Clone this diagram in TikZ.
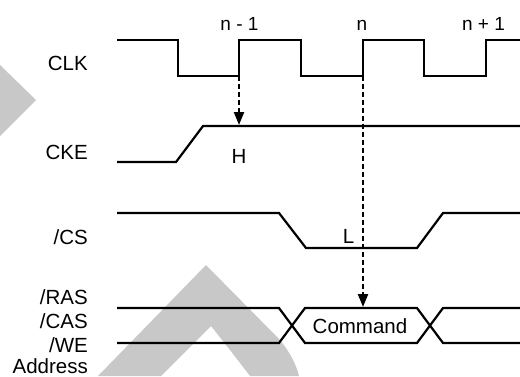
\documentclass[tikz,border=0pt]{standalone}
\usepackage{fontspec}
\setmainfont{Liberation Sans}
\usetikzlibrary{arrows.meta}
\definecolor{wmgray}{RGB}{200,200,200}
\tikzset{
  sig/.style={line width=2.2pt, line join=miter},
  dasharrow/.style={line width=2.2pt, dash pattern=on 5pt off 3pt, -{Triangle[width=10pt,length=13pt]}},
  lbl/.style={anchor=base east, inner sep=0pt, font=\fontsize{20.5}{24}\selectfont},
  toplbl/.style={anchor=base, inner sep=0pt, font=\fontsize{19}{23}\selectfont},
  midlbl/.style={anchor=base, inner sep=0pt, font=\fontsize{20.5}{24}\selectfont},
  wm/.style={fill=wmgray, draw=none}
}
\begin{document}
\begin{tikzpicture}[x=1pt,y=-1pt]
\useasboundingbox (0,0) rectangle (520,376);
% watermark shapes
\fill[wm] (0,65) -- (36,100) -- (0,136) -- cycle;
\fill[wm] (98,376) -- (206,265) -- (279,339) .. controls (290,352) and (296,364) .. (299,376)
  -- (250,376) -- (230,350) -- (211,326) -- (161,376) -- cycle;
% labels
\node[lbl] (lclk) at (88,70) {CLK};
\node[lbl] (lcke) at (88,159) {CKE};
\node[lbl] (lcs) at (88,244) {/CS};
\node[lbl] (lras) at (88,304) {/RAS};
\node[lbl] (lcas) at (88,328) {/CAS};
\node[lbl] (lwe) at (88,352) {/WE};
\node[lbl] (laddr) at (88,373.5) {Address};
\node[toplbl] (tn1) at (239.5,30) {n - 1};
\node[toplbl] (tn) at (362,30) {n};
\node[toplbl] (tn2) at (483.5,30) {n + 1};
% CLK
\draw[sig] (117,40) -- (178,40) -- (178,76) -- (239,76) -- (239,40) -- (301,40) -- (301,76)
  -- (363,76) -- (363,40) -- (424,40) -- (424,76) -- (486,76) -- (486,40) -- (521,40);
% CKE
\draw[sig] (117,162) -- (176,162) -- (203,126) -- (521,126);
% /CS
\draw[sig] (117,213) -- (279,213) -- (306,248) -- (417,248) -- (443,213) -- (521,213);
% bus
\draw[sig] (117,308) -- (279,308) -- (305,343) -- (417,343) -- (443,308) -- (521,308);
\draw[sig] (117,343) -- (279,343) -- (305,308) -- (417,308) -- (443,343) -- (521,343);
\node[midlbl] (hh) at (239,163) {H};
\node[midlbl] (ll) at (348.5,243) {L};
\node[midlbl] (cmd) at (360,333) {Command};
% arrows
\coordinate (clkA) at (239,76);
\coordinate (ckeA) at (239,125);
\coordinate (clkB) at (363,76);
\coordinate (cmdTop) at (363,307);
\draw[dasharrow] (clkA) -- (ckeA);
\draw[dasharrow] (clkB) -- (cmdTop);
\end{tikzpicture}
\end{document}
